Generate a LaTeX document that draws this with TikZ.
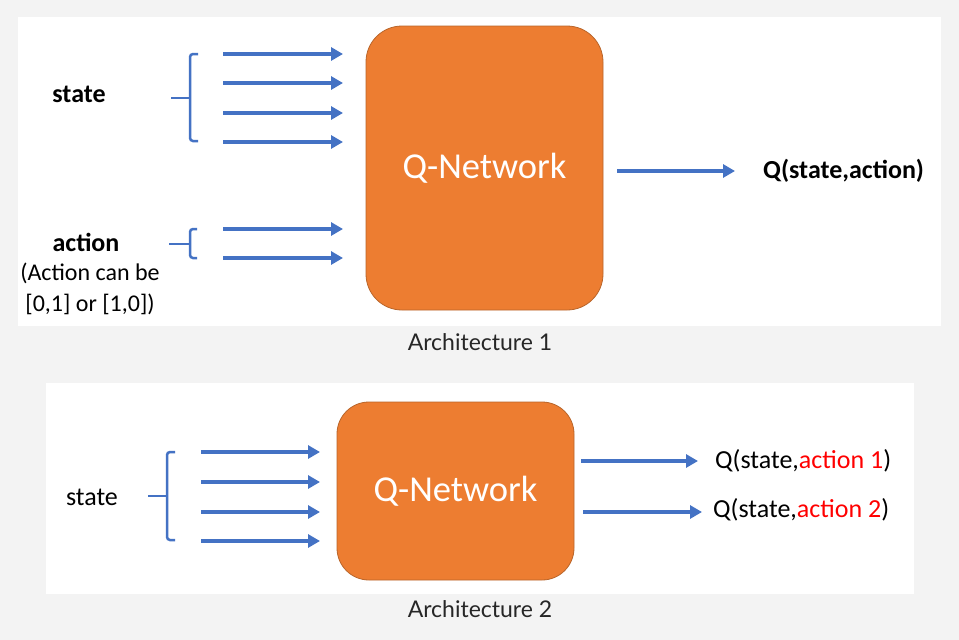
\documentclass[tikz,border=0pt]{standalone}
\usepackage{fontspec}
\setmainfont{Carlito}
\newfontfamily\archfont{Lato}
\usetikzlibrary{arrows.meta,calc}
\definecolor{netorange}{HTML}{ED7D31}
\definecolor{netedge}{HTML}{B9652A}
\definecolor{inblue}{HTML}{4472C4}
\definecolor{pagegray}{HTML}{F3F3F3}
\definecolor{capgray}{HTML}{262626}

\begin{document}
\begin{tikzpicture}[x = 1pt, y = -1pt,
  qnet/.style = {draw = netedge, fill = netorange, line width = 0.8pt, rounded corners = 36pt,
    minimum width = 237pt, inner sep = 0pt, text = white, font = \fontsize{36.5}{44}\selectfont},
  feed/.style = {draw = inblue, line width = 4pt, -{Triangle[length = 12pt, width = 13pt]}},
  brace/.style = {draw = inblue, line width = 2.5pt, rounded corners = 3pt},
  lbl/.style = {inner sep = 0pt, font = \fontsize{26}{31}\selectfont},
  caption/.style = {inner sep = 0pt, text = capgray, font = \archfont\fontsize{23}{28}\selectfont}]
\useasboundingbox [fill = pagegray] (0, 0) rectangle (959, 640);
%\draw [very thin, color = gray](0, 0) grid [step = 50] (959, 640);
\fill [white] (18, 17) rectangle (941, 326);
\fill [white] (46, 383) rectangle (914, 594);

% Architecture 1
\node [qnet, minimum height = 284pt] (net1) at (484.5, 168) {Q-Network};
\node [lbl, font = \fontsize{26}{31}\selectfont\bfseries] (st1) at (79, 94) {state};
\node [lbl, font = \fontsize{26}{31}\selectfont\bfseries] (act1) at (86, 242) {action};
\node [lbl, font = \fontsize{24}{29}\selectfont] (note1) at (90, 273) {(Action can be};
\node [lbl, font = \fontsize{24}{29}\selectfont] (note2) at (90, 304) {[0,1] or [1,0])};
\node [lbl, anchor = west, font = \fontsize{26}{31}\selectfont\bfseries] (qsa) at (763, 171) {Q(state,action)};
\foreach \y [count = \i] in {54, 83, 113, 142} {
  \coordinate (sa\i) at (223, \y);
  \coordinate (sb\i) at (343, \y);
  \draw [feed] (sa\i) -- (sb\i);
}
\foreach \y [count = \i] in {229, 258} {
  \coordinate (aa\i) at (223, \y);
  \coordinate (ab\i) at (343, \y);
  \draw [feed] (aa\i) -- (ab\i);
}
\draw [brace] (198, 54) -- (190, 54) -- (190, 141) -- (198, 141);
\draw [brace] (171, 98) -- (190, 98);
\draw [brace] (197, 229) -- (190, 229) -- (190, 258) -- (197, 258);
\draw [brace] (169, 244) -- (190, 244);
\draw [feed] ([xshift = 14pt]net1.east |- qsa.west) -- ([xshift = -28pt]qsa.west);
\node [caption] (cap1) at (480, 342) {Architecture 1};

% Architecture 2
\node [qnet, minimum height = 178pt, rounded corners = 32pt] (net2) at (455.5, 491) {Q-Network};
\node [lbl] (st2) at (92, 497) {state};
\node [lbl, anchor = west] (q1) at (715, 461) {Q(state,\textcolor{red}{action 1})};
\node [lbl, anchor = west] (q2) at (713, 510) {Q(state,\textcolor{red}{action 2})};
\foreach \y [count = \i] in {452, 482, 512, 541} {
  \coordinate (ta\i) at (201, \y);
  \coordinate (tb\i) at (320, \y);
  \draw [feed] (ta\i) -- (tb\i);
}
\draw [brace] (175, 452) -- (167, 452) -- (167, 540) -- (175, 540);
\draw [brace] (148, 496) -- (167, 496);
\draw [feed] ($(net2.east |- q1.west) + (7, 0)$) -- ($(q1.west) + (-17, 0)$);
\draw [feed] ($(net2.east |- q2.west) + (9, 2)$) -- ($(q2.west) + (-11, 2)$);
\node [caption] (cap2) at (480, 609) {Architecture 2};
\end{tikzpicture}
\end{document}
